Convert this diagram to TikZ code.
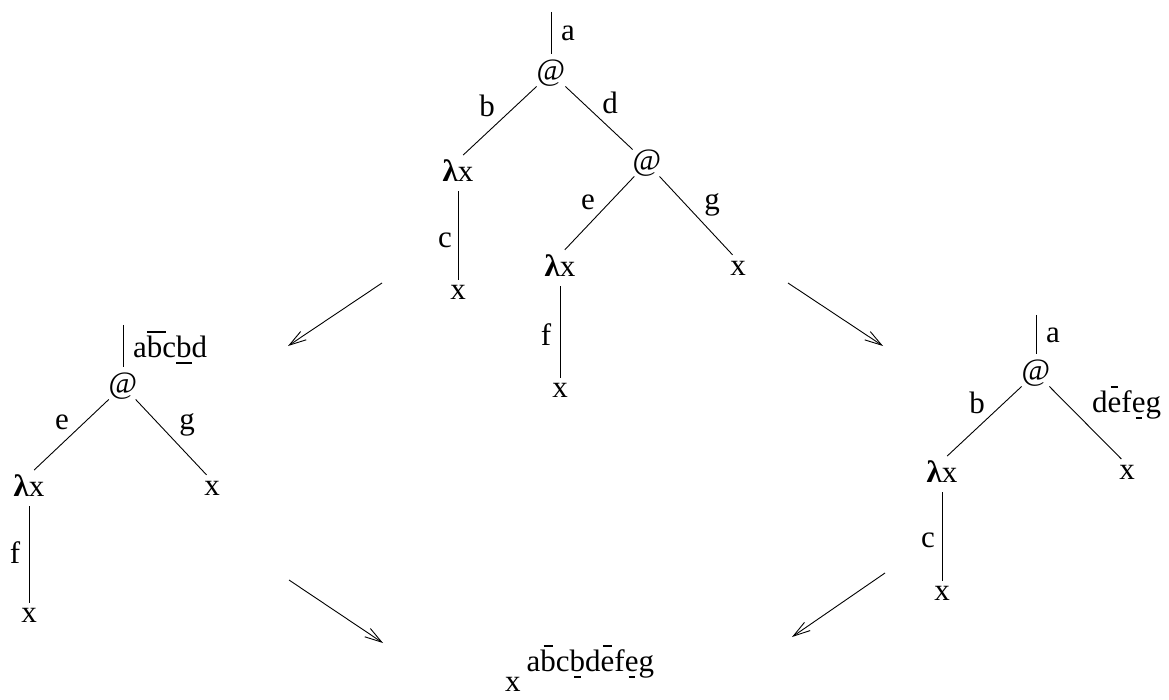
\documentclass[tikz,border=0pt]{standalone}
\usepackage{fontspec}
\setmainfont{Liberation Serif}
\usetikzlibrary{arrows.meta}
% short bar above / below a letter (optional bar width)
\newcommand\ob[2][0.4em]{\leavevmode\setbox0\hbox{#2}\rlap{\hbox to\wd0{\hfil\rule[0.78em]{#1}{0.045em}\hfil}}\box0}
\newcommand\ub[2][0.4em]{\leavevmode\setbox0\hbox{#2}\rlap{\hbox to\wd0{\hfil\rule[-0.21em]{#1}{0.045em}\hfil}}\box0}
\newcommand\lam{\textbf{λ}x}
\begin{document}
\begin{tikzpicture}[x=1pt,y=-1pt,
  every node/.style={font=\fontsize{31}{37}\selectfont, inner sep=0pt},
  tn/.style={},
  lbl/.style={},
  edge/.style={draw, line width=0.9pt},
  toL/.style={edge, shorten >=7pt},
  toX/.style={edge, shorten >=8pt},
  down/.style={edge, shorten <=9pt, shorten >=5pt},
  stem/.style={edge, shorten >=6pt},
  red/.style={draw, line width=0.9pt, -{Straight Barb[length=17pt,width=10pt]}}]
\useasboundingbox (0,0) rectangle (1169,700);

% ---- top term: (lambda x.x) ((lambda x.x) x)
\coordinate (t0) at (551,12);
\node[tn] (a1) at (551,73) {@};
\node[tn] (l1) at (458,171) {\lam};
\node[tn] (x1) at (458,292) {x};
\node[tn] (a2) at (647,163) {@};
\node[tn] (l2) at (560,266) {\lam};
\node[tn] (x2) at (560,390) {x};
\node[tn] (x3) at (738,268) {x};
\draw[stem] (t0) -- (a1.north);
\draw[toL] (a1) -- (l1.north);
\draw[edge] (a1) -- (a2);
\draw[down] (l1.south) -- (x1.north);
\draw[toL] (a2) -- (l2.north);
\draw[toX] (a2) -- (x3.north);
\draw[down] (l2.south) -- (x2.north);
\node[lbl] (la) at (568,33) {a};
\node[lbl] (lb) at (487,106) {b};
\node[lbl] (ld) at (610,103) {d};
\node[lbl] (lc) at (445,240) {c};
\node[lbl] (le) at (588,202) {e};
\node[lbl] (lg) at (712,205) {g};
\node[lbl] (lf) at (546,335) {f};

% ---- left term: first redex contracted
\coordinate (tL) at (123,325);
\node[tn] (aL) at (123,386) {@};
\node[tn] (lL) at (29,486) {\lam};
\node[tn] (xL1) at (29,615) {x};
\node[tn] (xL2) at (212,488) {x};
\draw[stem] (tL) -- (aL.north);
\draw[toL] (aL) -- (lL.north);
\draw[toX] (aL) -- (xL2.north);
\draw[down] (lL.south) -- (xL1.north);
\node[lbl, anchor=base west] (lL0) at (133,357) {a\ob[0.6em]{b}c\ub[0.5em]{b}d};
\node[lbl] (lLe) at (62,422) {e};
\node[lbl] (lLg) at (187,425) {g};
\node[lbl] (lLf) at (15,553) {f};

% ---- right term: second redex contracted
\coordinate (tR) at (1036,315);
\node[tn] (aR) at (1036,373) {@};
\node[tn] (lR) at (942,472) {\lam};
\node[tn] (xR2) at (942,593) {x};
\node[tn] (xR) at (1127,472) {x};
\draw[stem] (tR) -- (aR.north);
\draw[toL] (aR) -- (lR.north);
\draw[toX] (aR) -- (xR.north);
\draw[down] (lR.south) -- (xR2.north);
\node[lbl] (lRa) at (1053,335) {a};
\node[lbl] (lRb) at (977,403) {b};
\node[lbl, anchor=base west] (lR0) at (1092,412) {d\ob[0.25em]{e}f\ub[0.2em]{e}g};
\node[lbl] (lRc) at (928,540) {c};

% ---- normal form
\node[tn, anchor=base west] (res) at (505,691)
  {x\hspace{6pt}\raisebox{20pt}{a\ob[0.3em]{b}c\ub[0.2em]{b}d\ob[0.3em]{e}f\ub[0.2em]{e}g}};

% ---- reduction steps
\coordinate (r1s) at (382,283);
\coordinate (r1e) at (288,346);
\coordinate (r2s) at (788,283);
\coordinate (r2e) at (883,346);
\coordinate (r3s) at (289,580);
\coordinate (r3e) at (383,643);
\coordinate (r4s) at (885,573);
\coordinate (r4e) at (792,637);
\draw[red] (r1s) -- (r1e);
\draw[red] (r2s) -- (r2e);
\draw[red] (r3s) -- (r3e);
\draw[red] (r4s) -- (r4e);
\end{tikzpicture}
\end{document}
